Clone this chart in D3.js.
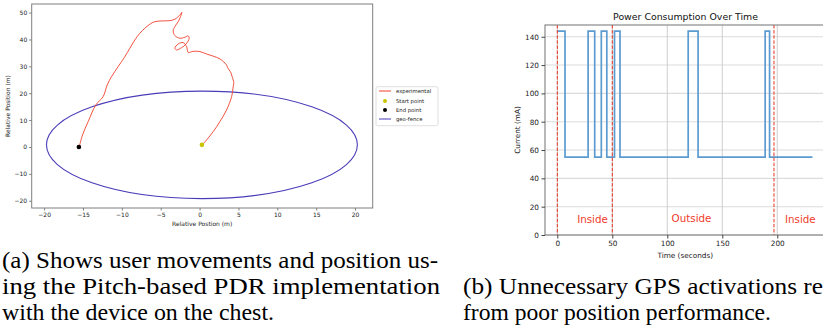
<!DOCTYPE html>
<html><head><meta charset="utf-8">
<script src="https://cdn.jsdelivr.net/npm/d3@7"></script>
<style>body{margin:0;background:#fff}svg{display:block}</style>
</head><body>
<svg id="c" width="823" height="334"></svg>
<script>
// ---------- Data: left panel (trajectory) ----------
const trajectory = [
  [0.33,0.74],[0.90,2.61],[1.75,5.70],[2.61,9.42],[3.47,13.78],[4.12,18.73],[4.32,22.45],[4.40,24.0],
  [4.32,24.94],[4.12,26.81],[4.05,27.5],[3.81,28.67],[3.60,29.5],[3.47,30.53],[3.04,31.8],[2.61,32.8],
  [1.75,33.8],[0.90,34.6],[0.04,35.5],[-0.82,35.6],[-1.47,35.2],[-1.67,37.34],[-2.11,38.83],[-2.75,38.35],
  [-3.18,36.75],[-2.96,36.11],[-2.32,36.97],[-1.76,38.24],[-1.34,40.47],[-1.47,41.33],[-1.89,40.84],
  [-2.54,40.47],[-3.18,41.44],[-3.40,43.19],[-3.18,44.79],[-2.75,46.65],[-2.45,48.51],[-2.28,50.15],
  [-2.45,49.40],[-2.75,48.51],[-3.18,47.54],[-3.82,47.02],[-4.68,46.91],[-5.75,46.65],[-6.40,45.68],
  [-7.04,44.19],[-7.68,42.33],[-8.33,39.84],[-8.97,36.75],[-9.61,33.62],[-10.48,29.90],[-11.33,26.17],
  [-11.89,23.08],[-12.41,18.73],[-13.35,15.64],[-14.34,9.42],[-15.06,4.47],[-15.50,0.11],[-15.53,0.0]
];
const startPoint = [0.3, 0.8];
const endPoint = [-15.53, 0.0];
const fenceCenter = [0.3, 0.8];
const fenceRadius = 20;
const trajXTicks = [-20,-15,-10,-5,0,5,10,15,20];
const trajYTicks = [-20,-10,0,10,20,30,40,50];
const legendLabels = ["experimental","Start point","End point","geo-fence"];

// ---------- Data: right panel (power) ----------
const stepTimes  = [0, 7, 28, 34, 40, 45, 52, 57, 119, 128, 189, 193, 232];
const stepValues = [144, 55, 144, 55, 144, 55, 144, 55, 144, 55, 144, 55, 55];
const boundaryTimes = [0, 50, 197];
const zoneLabels = [{t:32, label:"Inside"}, {t:122, label:"Outside"}, {t:221, label:"Inside"}];
const powerXTicks = [0,50,100,150,200];
const powerYTicks = [0,20,40,60,80,100,120,140];

// ---------- Captions (visible text) ----------
const captionA = ["(a) Shows user movements and position us-","ing the Pitch-based PDR implementation","with the device on the chest."];
const captionB = ["(b) Unnecessary GPS activations re","from poor position performance."];

const svg = d3.select("#c");
const sans = "DejaVu Sans, sans-serif";
const spineCol = "#7f7f7f";

// ===== Left panel =====
(function(){
  const L = {l:31.7, r:372.7, t:4, b:208};
  const x = d3.scaleLinear().domain([-21.6,22.27]).range([L.l,L.r]);
  const y = d3.scaleLinear().domain([-22.7,53.2]).range([L.b,L.t]);
  const g = svg.append("g");
  g.append("ellipse").attr("cx",x(fenceCenter[0])).attr("cy",y(fenceCenter[1]))
    .attr("rx",x(fenceRadius)-x(0)).attr("ry",y(0)-y(fenceRadius))
    .attr("fill","none").attr("stroke","#4a3cb8").attr("stroke-width",1.1);
  g.append("path").datum(trajectory)
    .attr("d",d3.line().x(d=>x(d[0])).y(d=>y(d[1])).curve(d3.curveCatmullRom.alpha(0.5)))
    .attr("fill","none").attr("stroke","#f0402a").attr("stroke-width",0.9);
  g.append("circle").attr("cx",x(startPoint[0])).attr("cy",y(startPoint[1])).attr("r",2.3).attr("fill","#c9c400");
  g.append("circle").attr("cx",x(endPoint[0])).attr("cy",y(endPoint[1])).attr("r",2.3).attr("fill","#000");
  g.append("rect").attr("x",L.l).attr("y",L.t).attr("width",L.r-L.l).attr("height",L.b-L.t)
    .attr("fill","none").attr("stroke",spineCol).attr("stroke-width",1);
  const xa = g.append("g").attr("transform",`translate(0,${L.b})`)
    .call(d3.axisBottom(x).tickValues(trajXTicks).tickSize(2.5).tickPadding(2).tickFormat(d=>d<0?"\u2212"+(-d):d));
  const ya = g.append("g").attr("transform",`translate(${L.l},0)`)
    .call(d3.axisLeft(y).tickValues(trajYTicks).tickSize(2.5).tickPadding(2).tickFormat(d=>d<0?"\u2212"+(-d):d));
  [xa,ya].forEach(a=>{a.select(".domain").remove();a.selectAll("line").attr("stroke",spineCol);
    a.selectAll("text").attr("font-family",sans).attr("font-size",6).attr("fill","#222");});
  g.append("text").attr("x",(L.l+L.r)/2).attr("y",226).attr("text-anchor","middle")
    .attr("font-family",sans).attr("font-size",6).attr("fill","#222").text("Relative Postion (m)");
  g.append("text").attr("transform",`translate(9.5,${(L.t+L.b)/2}) rotate(-90)`).attr("text-anchor","middle")
    .attr("font-family",sans).attr("font-size",6).attr("fill","#222").text("Relative Position (m)");
  const lg = g.append("g");
  lg.append("rect").attr("x",376).attr("y",86.7).attr("width",62).attr("height",39).attr("rx",1.5)
    .attr("fill","#fff").attr("stroke","#d5d5d5").attr("stroke-width",0.8);
  const ys = [91,101,110,119];
  legendLabels.forEach((lab,i)=>{
    if(i===0||i===3){
      lg.append("line").attr("x1",379).attr("x2",391).attr("y1",ys[i]).attr("y2",ys[i])
        .attr("stroke",i===0?"#f0402a":"#4a3cb8").attr("stroke-width",1);
    } else {
      lg.append("circle").attr("cx",385).attr("cy",ys[i]).attr("r",2).attr("fill",i===1?"#c9c400":"#000");
    }
    lg.append("text").attr("x",396).attr("y",ys[i]+1.9).attr("font-family",sans).attr("font-size",5.3)
      .attr("fill","#222").text(lab);
  });
})();

// ===== Right panel =====
(function(){
  const R = {l:545, r:825, t:25, b:235};
  const x = d3.scaleLinear().domain([-11.2,243.4]).range([R.l,R.r]);
  const y = d3.scaleLinear().domain([0,148.3]).range([R.b,R.t]);
  const g = svg.append("g");
  powerYTicks.forEach(v=>g.append("line").attr("x1",R.l).attr("x2",R.r).attr("y1",y(v)).attr("y2",y(v))
    .attr("stroke","#dcdcdc").attr("stroke-width",1.1));
  powerXTicks.forEach(v=>g.append("line").attr("x1",x(v)).attr("x2",x(v)).attr("y1",R.t).attr("y2",R.b)
    .attr("stroke","#c8c8c8").attr("stroke-width",0.9));
  const pts = stepTimes.map((t,i)=>[t,stepValues[i]]);
  g.append("path").datum(pts).attr("d",d3.line().x(d=>x(d[0])).y(d=>y(d[1])).curve(d3.curveStepAfter))
    .attr("fill","none").attr("stroke","#5b9bd0").attr("stroke-width",1.7);
  boundaryTimes.forEach(t=>g.append("line").attr("x1",x(t)).attr("x2",x(t)).attr("y1",R.t).attr("y2",R.b)
    .attr("stroke","#e8331f").attr("stroke-width",1).attr("stroke-dasharray","3.5,1.6"));
  zoneLabels.forEach((z,i)=>g.append("text").attr("x",x(z.t)).attr("y",i===1?222:223).attr("text-anchor","middle")
    .attr("font-family",sans).attr("font-size",10.3).attr("fill","#f03a2a").text(z.label));
  g.append("rect").attr("x",R.l).attr("y",R.t).attr("width",R.r-R.l).attr("height",R.b-R.t)
    .attr("fill","none").attr("stroke",spineCol).attr("stroke-width",1.1);
  const xa = g.append("g").attr("transform",`translate(0,${R.b})`)
    .call(d3.axisBottom(x).tickValues(powerXTicks).tickSize(3.5).tickPadding(2.5));
  const ya = g.append("g").attr("transform",`translate(${R.l},0)`)
    .call(d3.axisLeft(y).tickValues(powerYTicks).tickSize(3.5).tickPadding(2.5));
  [xa,ya].forEach(a=>{a.select(".domain").remove();a.selectAll("line").attr("stroke","#444");
    a.selectAll("text").attr("font-family",sans).attr("font-size",7.3).attr("fill","#222");});
  g.append("text").attr("x",685.3).attr("y",258).attr("text-anchor","middle")
    .attr("font-family",sans).attr("font-size",7.3).attr("fill","#222").text("Time (seconds)");
  g.append("text").attr("transform",`translate(519.5,${(R.t+R.b)/2}) rotate(-90)`).attr("text-anchor","middle")
    .attr("font-family",sans).attr("font-size",7.3).attr("fill","#222").text("Current (mA)");
  g.append("text").attr("x",685.5).attr("y",19.5).attr("text-anchor","middle")
    .attr("font-family",sans).attr("font-size",9.4).attr("fill","#111").text("Power Consumption Over Time");
})();

// ===== Captions =====
(function(){
  const serif = "Liberation Serif, Times New Roman, serif";
  const fs = 24;
  const base = [268, 294, 320];
  const mk = (x,y,t,w)=>svg.append("text").attr("x",x).attr("y",y).attr("font-family",serif)
    .attr("font-size",fs).attr("fill","#000").attr("textLength",w).attr("lengthAdjust","spacingAndGlyphs").text(t);
  mk(2,base[0],captionA[0],436);
  mk(2,base[1],captionA[1],438);
  mk(2,base[2],captionA[2],272);
  mk(463,base[1],captionB[0],360);
  mk(463,base[2],captionB[1],308);
})();
</script>
</body></html>
